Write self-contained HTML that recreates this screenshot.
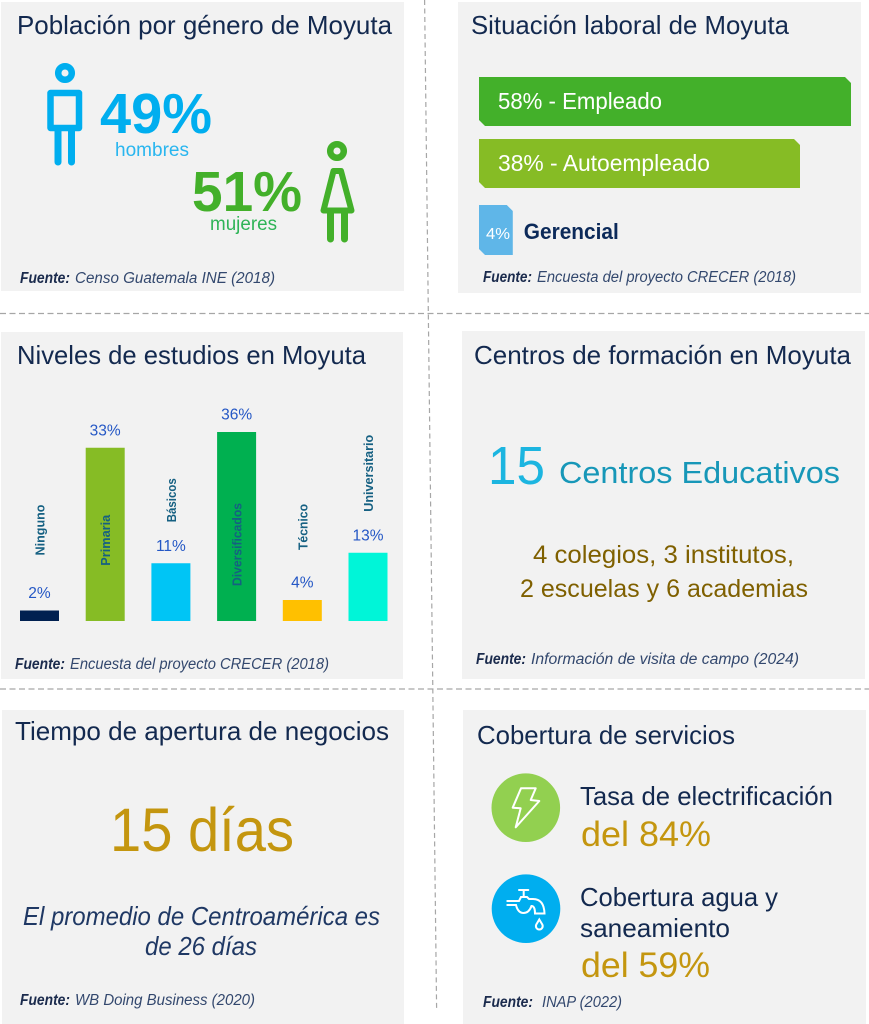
<!DOCTYPE html>
<html lang="es">
<head>
<meta charset="utf-8">
<title>Moyuta</title>
<style>
html,body{margin:0;padding:0;background:#fff;}
svg{display:block;}
text{font-family:"Liberation Sans",sans-serif;}
.title{font-size:26px;fill:#13294f;}
.src{font-size:15.5px;font-style:italic;fill:#33486e;}
.srcb{font-size:15.5px;font-style:italic;font-weight:bold;fill:#1b2b4d;}
.gold{fill:#c4960f;}
</style>
</head>
<body>
<svg id="root" width="869" height="1024" viewBox="0 0 869 1024" xmlns="http://www.w3.org/2000/svg">
<rect width="869" height="1024" fill="#ffffff"/>
<rect x="1" y="2" width="403" height="289" fill="#f2f2f2"/>
<rect x="458" y="2" width="403" height="291" fill="#f2f2f2"/>
<rect x="1" y="332" width="402" height="347" fill="#f2f2f2"/>
<rect x="462" y="331" width="403" height="348" fill="#f2f2f2"/>
<rect x="2" y="710" width="402" height="314" fill="#f2f2f2"/>
<rect x="463" y="710" width="403" height="314" fill="#f2f2f2"/>

<line x1="424.6" y1="0" x2="436.6" y2="1008" stroke="#a6a6a6" stroke-width="1.2" stroke-dasharray="5 3.5"/>
<line x1="0" y1="313.5" x2="869" y2="313.5" stroke="#a6a6a6" stroke-width="1.2" stroke-dasharray="6 3.5"/>
<line x1="0" y1="689" x2="869" y2="689" stroke="#a6a6a6" stroke-width="1.2" stroke-dasharray="6 3.5"/>

<text class="title" x="17" y="34" textLength="375" lengthAdjust="spacingAndGlyphs">Población por género de Moyuta</text>
<g fill="none" stroke="#00aeef">
<circle cx="65" cy="73" r="6.8" stroke-width="6.5"/>
<rect x="50.5" y="93" width="28.5" height="35" stroke-width="6.5" stroke-linejoin="round"/>
<path d="M58 130V162M71.5 130V162" stroke-width="7" stroke-linecap="round"/>
</g>
<text x="100" y="133" font-size="57" font-weight="bold" fill="#00aeef" textLength="112" lengthAdjust="spacingAndGlyphs">49%</text>
<text x="115" y="156" font-size="19" fill="#29b6ef" textLength="74" lengthAdjust="spacingAndGlyphs">hombres</text>
<text x="192" y="211" font-size="57" font-weight="bold" fill="#43b02a" textLength="110" lengthAdjust="spacingAndGlyphs">51%</text>
<text x="210" y="230" font-size="19" fill="#2fb457" textLength="67" lengthAdjust="spacingAndGlyphs">mujeres</text>
<g fill="none" stroke="#43b02a">
<circle cx="337" cy="151" r="6.8" stroke-width="6.5"/>
<path d="M333.5 171H341L351.5 210.5H323.5Z" stroke-width="6" stroke-linejoin="round"/>
<path d="M330.5 212V239M344.5 212V239" stroke-width="7" stroke-linecap="round"/>
</g>
<text class="srcb" x="20" y="283" textLength="50" lengthAdjust="spacingAndGlyphs">Fuente:</text>
<text class="src" x="75" y="283" textLength="200" lengthAdjust="spacingAndGlyphs">Censo Guatemala INE (2018)</text>

<text class="title" x="471" y="34" textLength="318" lengthAdjust="spacingAndGlyphs">Situación laboral de Moyuta</text>
<g id="hbars"></g>
<text class="srcb" x="483" y="282" textLength="49" lengthAdjust="spacingAndGlyphs">Fuente:</text>
<text class="src" x="537" y="282" textLength="259" lengthAdjust="spacingAndGlyphs">Encuesta del proyecto CRECER (2018)</text>

<text class="title" x="17" y="364" textLength="349" lengthAdjust="spacingAndGlyphs">Niveles de estudios en Moyuta</text>
<g id="vbars"></g>
<text class="srcb" x="15" y="669" textLength="50" lengthAdjust="spacingAndGlyphs">Fuente:</text>
<text class="src" x="70" y="669" textLength="259" lengthAdjust="spacingAndGlyphs">Encuesta del proyecto CRECER (2018)</text>

<text class="title" x="474" y="364" textLength="377" lengthAdjust="spacingAndGlyphs">Centros de formación en Moyuta</text>
<text x="488" y="484" font-size="54" fill="#1cb5e0" textLength="57" lengthAdjust="spacingAndGlyphs">15</text>
<text x="559" y="483" font-size="31" fill="#1797b8" textLength="281" lengthAdjust="spacingAndGlyphs">Centros Educativos</text>
<text x="533" y="563" font-size="25" fill="#7f6000" textLength="261" lengthAdjust="spacingAndGlyphs">4 colegios, 3 institutos,</text>
<text x="520" y="597" font-size="25" fill="#7f6000" textLength="288" lengthAdjust="spacingAndGlyphs">2 escuelas y 6 academias</text>
<text class="srcb" x="476" y="664" textLength="50" lengthAdjust="spacingAndGlyphs">Fuente:</text>
<text class="src" x="531" y="664" textLength="268" lengthAdjust="spacingAndGlyphs">Información de visita de campo (2024)</text>

<text class="title" x="15" y="740" textLength="374" lengthAdjust="spacingAndGlyphs">Tiempo de apertura de negocios</text>
<text class="gold" x="110" y="851" font-size="61" textLength="184" lengthAdjust="spacingAndGlyphs">15 días</text>
<text x="23" y="925" font-size="26" font-style="italic" fill="#1f3864" textLength="357" lengthAdjust="spacingAndGlyphs">El promedio de Centroamérica es</text>
<text x="145" y="955" font-size="26" font-style="italic" fill="#1f3864" textLength="112" lengthAdjust="spacingAndGlyphs">de 26 días</text>
<text class="srcb" x="20" y="1005" textLength="50" lengthAdjust="spacingAndGlyphs">Fuente:</text>
<text class="src" x="75" y="1005" textLength="180" lengthAdjust="spacingAndGlyphs">WB Doing Business (2020)</text>

<text class="title" x="477" y="744" textLength="258" lengthAdjust="spacingAndGlyphs">Cobertura de servicios</text>
<circle cx="525.8" cy="807.7" r="34.3" fill="#92d050"/>
<path d="M521 788.3H535.7L530.7 800L539.3 801L515.7 827.3L520.7 808.3L512.7 807.7Z" fill="none" stroke="#fff" stroke-width="2" stroke-linejoin="round"/>
<text x="580" y="805" font-size="26" fill="#13294f" textLength="253" lengthAdjust="spacingAndGlyphs">Tasa de electrificación</text>
<text class="gold" x="581" y="846" font-size="35" textLength="130" lengthAdjust="spacingAndGlyphs">del 84%</text>
<circle cx="526" cy="908.7" r="34.3" fill="#00aeef"/>
<g fill="none" stroke="#fff" stroke-width="2" stroke-linecap="round">
<path d="M519 890H528.3M523.7 890V896.5M507.3 901H519L521 897H527L529 899H533Q544 899 544.5 913.5H535Q535 906 531.5 906Q529 913 523.5 913Q518 913 516 905H507.3"/>
<path d="M539.3 919.5L542.3 924.5A3.4 3.4 0 1 1 536.3 924.5Z"/>
</g>
<text x="580" y="906" font-size="26" fill="#13294f" textLength="198" lengthAdjust="spacingAndGlyphs">Cobertura agua y</text>
<text x="580" y="937" font-size="26" fill="#13294f" textLength="150" lengthAdjust="spacingAndGlyphs">saneamiento</text>
<text class="gold" x="581" y="977" font-size="35" textLength="129" lengthAdjust="spacingAndGlyphs">del 59%</text>
<text class="srcb" x="483" y="1007" textLength="50" lengthAdjust="spacingAndGlyphs">Fuente:</text>
<text class="src" x="542" y="1007" textLength="80" lengthAdjust="spacingAndGlyphs">INAP (2022)</text>
</svg>
<script>
var employmentCategories = ["Empleado", "Autoempleado", "Gerencial"];
var employmentValues = [58, 38, 4];

var educationCategories = ["Ninguno", "Primaria", "Básicos", "Diversificados", "Técnico", "Universitario"];
var educationValues = [2, 33, 11, 36, 4, 13];

var NS = "http://www.w3.org/2000/svg";

// Piecewise axis: the reference compresses the longest bar to fit inside its panel.
function employmentWidth(v) {
  if (v <= 38) return v * 321 / 38;
  return 321 + (v - 38) * 51 / 20;
}
function employmentTop(i) {
  return [77, 139, 205][i];
}
function educationX(i) {
  return 20 + i * 65.7;
}
function educationHeight(v) {
  return v * 5.25;
}
var educationBase = 621;
var educationColors = ["#002050", "#86bc25", "#00c5f5", "#00b050", "#ffc000", "#00f5d8"];
var employmentColors = ["#43b02a", "#86bc25", "#5fb6e8"];
var categoryGaps = [55, -118, 41, -154, 50, 41];
var categoryLengths = [51, 51, 44, 83, 46, 77];
var employmentLabelLengths = [164, 212];

var hGroup = document.getElementById("hbars");
employmentValues.forEach(function (v, i) {
  var x = 479, y = employmentTop(i), h = i === 2 ? 50 : 49, w = employmentWidth(v), c = 6;
  var bar = document.createElementNS(NS, "path");
  bar.setAttribute("d", "M" + x + " " + y + "H" + (x + w - c) + "L" + (x + w) + " " + (y + c) + "V" + (y + h) + "H" + (x + c) + "L" + x + " " + (y + h - c) + "Z");
  bar.setAttribute("fill", employmentColors[i]);
  
  
  hGroup.appendChild(bar);
  var t = document.createElementNS(NS, "text");
  
  
  if (i < 2) {
    t.setAttribute("x", x + 19);
    t.setAttribute("y", y + 32);
    t.setAttribute("font-size", "23");
    t.setAttribute("fill", "#ffffff");
    t.setAttribute("textLength", employmentLabelLengths[i]);
    t.setAttribute("lengthAdjust", "spacingAndGlyphs");
    t.textContent = v + "% - " + employmentCategories[i];
  } else {
    t.setAttribute("x", x + 7);
    t.setAttribute("y", y + 34);
    t.setAttribute("font-size", "16");
    t.setAttribute("fill", "#ffffff");
    t.setAttribute("textLength", "24");
    t.setAttribute("lengthAdjust", "spacingAndGlyphs");
    t.textContent = v + "%";
    var name = document.createElementNS(NS, "text");
    
    
    name.setAttribute("x", x + w + 11);
    name.setAttribute("y", y + 34);
    name.setAttribute("font-size", "22");
    name.setAttribute("font-weight", "bold");
    name.setAttribute("fill", "#0c2a5a");
    name.setAttribute("textLength", "95");
    name.setAttribute("lengthAdjust", "spacingAndGlyphs");
    name.textContent = employmentCategories[i];
    hGroup.appendChild(name);
  }
  hGroup.appendChild(t);
});

var vGroup = document.getElementById("vbars");
educationValues.forEach(function (v, i) {
  var x = educationX(i), h = educationHeight(v), top = educationBase - h;
  var bar = document.createElementNS(NS, "rect");
  bar.setAttribute("x", x);
  bar.setAttribute("y", top);
  bar.setAttribute("width", 39);
  bar.setAttribute("height", h);
  bar.setAttribute("fill", educationColors[i]);
  
  
  vGroup.appendChild(bar);
  var val = document.createElementNS(NS, "text");
  val.setAttribute("x", x + 19.5);
  val.setAttribute("y", top - 12.5);
  val.setAttribute("text-anchor", "middle");
  val.setAttribute("font-size", "15.5");
  val.setAttribute("fill", "#2457c5");
  
  
  val.textContent = v + "%";
  vGroup.appendChild(val);
  var cat = document.createElementNS(NS, "text");
  var bx = x + 24.5, by = top - categoryGaps[i];
  cat.setAttribute("transform", "translate(" + bx + " " + by + ") rotate(-90)");
  cat.setAttribute("font-size", "13");
  cat.setAttribute("font-weight", "bold");
  cat.setAttribute("fill", "#156082");
  cat.setAttribute("textLength", categoryLengths[i]);
  cat.setAttribute("lengthAdjust", "spacingAndGlyphs");
  
  
  cat.textContent = educationCategories[i];
  vGroup.appendChild(cat);
});
</script>
</body>
</html>
